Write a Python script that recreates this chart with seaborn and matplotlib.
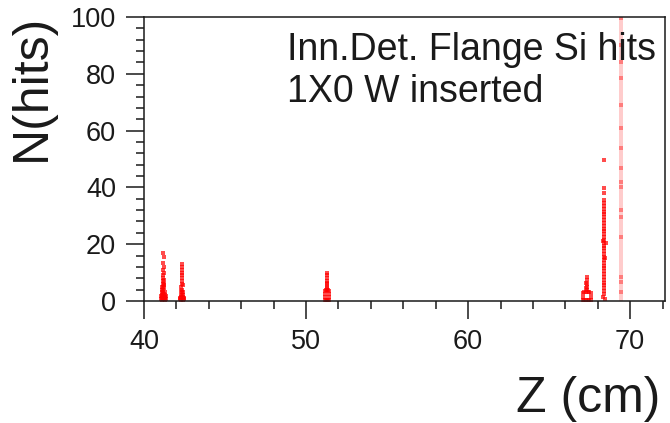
import matplotlib
matplotlib.use("Agg")
import matplotlib.pyplot as plt
from matplotlib.ticker import MultipleLocator
import seaborn as sns
import pandas as pd

# ---------------- data ----------------
# cluster near Z = 41.2 cm
a_z = [41.20, 41.22, 41.20, 41.24, 41.20, 41.22, 41.20, 41.18, 41.22, 41.20,
       41.16, 41.24, 41.20, 41.14, 41.26, 41.20, 41.12, 41.28, 41.20, 41.10,
       41.30, 41.20, 41.08, 41.32, 41.16, 41.24, 41.10, 41.30, 41.16, 41.26,
       41.14, 41.26, 41.12, 41.28, 41.04, 41.36, 41.06, 41.34]
a_n = [17.0, 15.5, 13.5, 12.0, 11.0, 10.0, 9.0, 8.0, 7.5, 7.0,
       6.0, 6.0, 5.0, 4.0, 4.5, 4.0, 3.0, 3.0, 2.5, 2.0,
       2.0, 1.5, 1.0, 1.0, 0.8, 0.8, 0.4, 0.4, 3.0, 2.5,
       5.0, 5.5, 1.8, 1.5, 0.6, 0.6, 1.6, 1.6]
# cluster near Z = 42.35 cm
b_z = [42.35, 42.35, 42.33, 42.37, 42.35, 42.33, 42.37, 42.35, 42.31, 42.39,
       42.35, 42.29, 42.41, 42.35, 42.27, 42.43, 42.35, 42.25, 42.45, 42.31,
       42.39, 42.29, 42.41, 42.21, 42.49]
b_n = [13.0, 12.0, 11.0, 10.0, 9.0, 8.0, 7.0, 6.0, 5.0, 5.5,
       4.0, 3.5, 3.0, 3.0, 2.0, 2.0, 2.0, 1.0, 1.0, 0.5,
       0.5, 1.5, 1.5, 0.6, 0.6]
# cluster near Z = 51.3 cm (hollow box at the bottom)
c_z = [51.30, 51.30, 51.28, 51.30, 51.32, 51.30, 51.28, 51.32,
       51.18, 51.18, 51.18, 51.18, 51.42, 51.42, 51.42, 51.42,
       51.24, 51.30, 51.36, 51.24, 51.30, 51.36]
c_n = [10.0, 9.0, 8.0, 7.0, 6.5, 6.0, 5.0, 4.5,
       0.5, 1.5, 2.5, 3.5, 0.5, 1.5, 2.5, 3.5,
       3.8, 3.8, 3.8, 0.3, 0.3, 0.3]
# cluster near Z = 67.3 cm (hollow box at the bottom)
d_z = [67.32, 67.32, 67.30, 67.34, 67.32, 67.30, 67.34,
       67.08, 67.08, 67.08, 67.56, 67.56, 67.56,
       67.16, 67.26, 67.38, 67.48, 67.16, 67.26, 67.38, 67.48]
d_n = [8.5, 7.5, 6.5, 6.0, 5.0, 4.5, 4.0,
       0.5, 1.5, 2.8, 0.5, 1.5, 2.8,
       3.2, 3.2, 3.2, 3.2, 0.2, 0.2, 0.2, 0.2]
# cluster near Z = 68.4 cm
e_z = [68.40, 68.40, 68.40, 68.40, 68.40, 68.40, 68.40, 68.40, 68.40, 68.40,
       68.40, 68.40, 68.40, 68.40, 68.40, 68.40, 68.40, 68.40, 68.40, 68.40,
       68.40, 68.40, 68.40, 68.40, 68.40, 68.40, 68.40, 68.40, 68.40, 68.40,
       68.40, 68.40, 68.40, 68.40, 68.40, 68.40, 68.40, 68.30, 68.50, 68.46,
       68.34, 68.44]
e_n = [49.6, 39.8, 38.0, 35.5, 34.5, 33.5, 32.5, 31.5, 30.5, 29.5,
       28.5, 27.5, 26.5, 25.5, 24.5, 23.5, 22.5, 21.5, 20.5, 19.5,
       18.5, 17.5, 16.5, 15.5, 14.5, 13.5, 12.5, 11.5, 10.5, 9.5,
       8.5, 7.5, 6.5, 5.5, 4.5, 3.5, 2.5, 21.0, 20.5, 15.0,
       1.5, 0.8]
# column near Z = 69.4 cm: faint band over the full range plus darker hits
f_band_z = [69.42]
f_band_n = [100.0]
f_z = [69.42, 69.42, 69.42, 69.42, 69.42, 69.42, 69.42, 69.42, 69.42, 69.42,
       69.42, 69.42, 69.42, 69.42, 69.42, 69.42]
f_n = [99.6, 78.5, 69.0, 61.0, 54.0, 47.0, 42.0, 40.0, 32.0, 29.6,
       22.5, 8.5, 6.7, 3.0, 90.0, 84.0]

x_ticks = [40, 50, 60, 70]
y_ticks = [0, 20, 40, 60, 80, 100]
title_lines = ["Inn.Det. Flange Si hits", "1X0 W inserted"]

# ---------------- figure ----------------
sns.set_style("ticks")
plt.rcParams["font.family"] = ["Liberation Sans", "DejaVu Sans"]

fig = plt.figure(figsize=(6.7, 4.23), dpi=100)
ax = fig.add_axes([144 / 670, 1 - 301 / 423, (665 - 144) / 670, (301 - 17) / 423])

df = pd.DataFrame({
    "z": a_z + b_z + c_z + d_z + e_z,
    "n": a_n + b_n + c_n + d_n + e_n,
})

ax.bar(f_band_z, f_band_n, width=0.26, color="#ff0000", alpha=0.2, linewidth=0)
sns.scatterplot(x=f_z, y=f_n, ax=ax, marker="s", s=7, color="#ff3030",
                alpha=0.5, linewidth=0)
sns.scatterplot(data=df, x="z", y="n", ax=ax, marker="s", s=8, color="#ff0000",
                alpha=0.7, linewidth=0)

ax.set_xlim(40, 72.15)
ax.set_ylim(0, 100)
ax.set_xticks(x_ticks)
ax.set_yticks(y_ticks)
ax.xaxis.set_minor_locator(MultipleLocator(2))
ax.yaxis.set_minor_locator(MultipleLocator(4))
ax.set_xlabel("")
ax.set_ylabel("")

for sp in ax.spines.values():
    sp.set_visible(True)
    sp.set_linewidth(1.1)
    sp.set_color("#1a1a1a")
ax.tick_params(which="major", direction="out", length=13, width=1.1,
               labelsize=19.5, pad=7, color="#1a1a1a", labelcolor="#1a1a1a",
               top=False, right=False)
ax.tick_params(which="minor", direction="out", length=5.5, width=1.1,
               color="#1a1a1a", top=False, right=False)

ax.text(0.274, 0.849, title_lines[0], transform=ax.transAxes, fontsize=27,
        va="baseline", ha="left", color="#1a1a1a")
ax.text(0.274, 0.70, title_lines[1], transform=ax.transAxes, fontsize=27,
        va="baseline", ha="left", color="#1a1a1a")

fig.text(0.047, 0.967, "N(hits)", rotation=90, ha="center", va="top",
         fontsize=36, color="#1a1a1a")
fig.text(0.985, 0.026, "Z (cm)", ha="right", va="baseline",
         fontsize=36, color="#1a1a1a")

fig.savefig("out.png", dpi=100)
